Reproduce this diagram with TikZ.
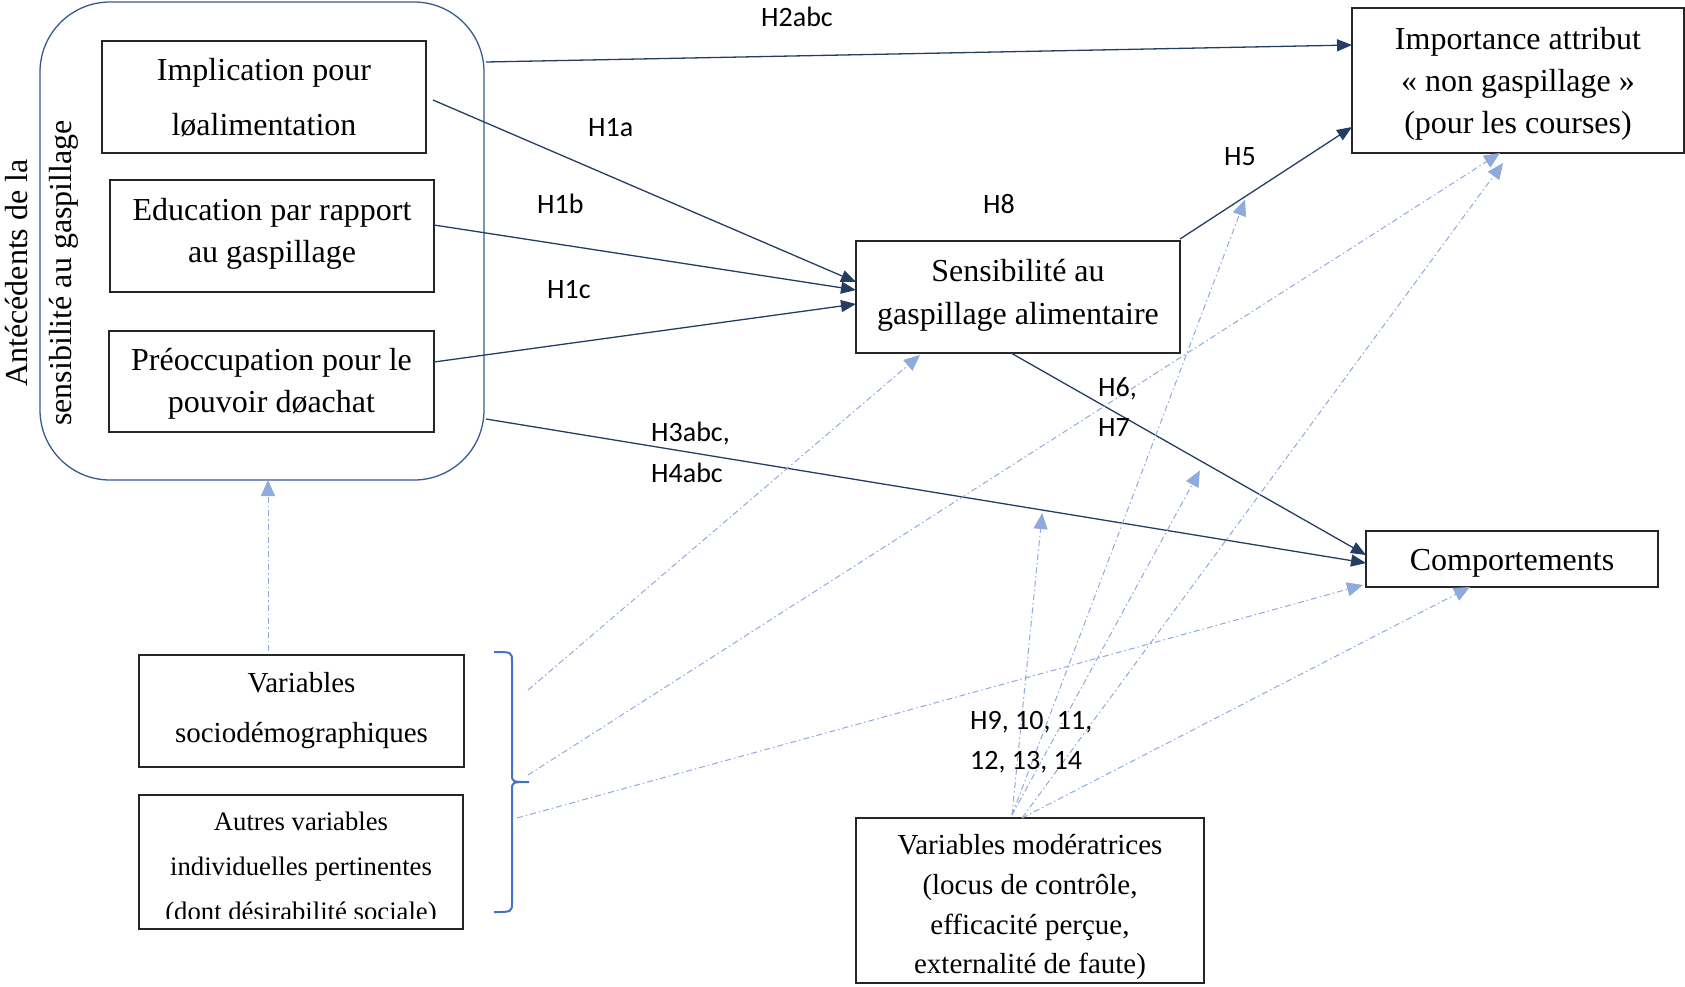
\documentclass[tikz,border=0pt]{standalone}
\usepackage{fontspec}
\setmainfont{Liberation Serif}
\newfontfamily\hypfont{Carlito}
\usetikzlibrary{arrows.meta,calc}

\definecolor{navy}{RGB}{36,62,98}
\definecolor{grpblue}{RGB}{55,90,145}
\definecolor{lightblue}{RGB}{143,170,220}
\definecolor{braceblue}{RGB}{68,114,196}

\begin{document}
\begin{tikzpicture}[x=1pt,y=-1pt,
  box/.style={draw=black!85,line width=1.2pt,rectangle,outer sep=0pt,inner sep=0pt,align=center},
  big/.style={font=\fontsize{32}{42}\selectfont},
  hyp/.style={font=\hypfont\fontsize{28}{34}\selectfont,inner sep=0pt,anchor=base west},
  mainarrow/.style={draw=navy,line width=1.3pt,-{Triangle[length=15pt,width=12pt]}},
  modarrow/.style={draw=lightblue,line width=1pt,dash pattern=on 6pt off 3pt on 1.5pt off 3pt,
    -{Triangle[length=16pt,width=14pt]}}
]
\useasboundingbox (0,0) rectangle (1685,986);

% group of antecedents
\node[draw=grpblue,line width=1.3pt,rounded corners=70pt,minimum width=444pt,minimum height=478pt,
  outer sep=0pt,inner sep=0pt] (grp) at (262,241) {};
\node[rotate=90,align=center,font=\fontsize{32}{44}\selectfont,inner sep=0pt] (grplab) at (42,273)
  {Antécédents de la\\sensibilité au gaspillage};

% boxes (struts balance the text vertically inside each box)
\node[box,big,minimum width=324pt,minimum height=112pt,font=\fontsize{32}{55}\selectfont] (impl) at (264,97)
  {\rule{0pt}{24pt}Implication pour\\løalimentation};
\node[box,big,minimum width=324pt,minimum height=112pt] (edu) at (272,236)
  {Education par rapport\\au gaspillage\rule[-11pt]{0pt}{0pt}};
\node[box,big,minimum width=325pt,minimum height=101pt] (preo) at (271.5,381.5)
  {\rule{0pt}{27pt}Préoccupation pour le\\pouvoir døachat};
\node[box,big,minimum width=324pt,minimum height=112pt,font=\fontsize{32}{43}\selectfont] (sens) at (1018,297)
  {Sensibilité au\\gaspillage alimentaire\rule[-11pt]{0pt}{0pt}};
\node[box,big,minimum width=332pt,minimum height=145pt,font=\fontsize{32}{42}\selectfont] (imp) at (1518,80.5)
  {\rule{0pt}{28pt}Importance attribut\\«~non gaspillage~»\\(pour les courses)};
\node[box,big,minimum width=292pt,minimum height=56pt] (comp) at (1512,559) {\rule{0pt}{30pt}Comportements};
\node[box,minimum width=325pt,minimum height=112pt,font=\fontsize{29}{50}\selectfont] (socio) at (301.5,711)
  {Variables\\sociodémographiques};
\node[box,minimum width=324pt,minimum height=134pt] (autres) at (301,862) {};
\begin{scope}
  \clip (140,796) rectangle (462,918);
  \node[inner sep=0pt,align=center,anchor=north,font=\fontsize{26.7}{45}\selectfont] (autrestxt) at (301,812)
    {Autres variables\\individuelles pertinentes\\(dont désirabilité sociale)};
\end{scope}
\node[box,minimum width=348pt,minimum height=165pt] (mod) at (1030,900.5) {};
\node[inner sep=0pt,align=center,anchor=north,font=\fontsize{29}{39.7}\selectfont] (modtxt) at (1030,834.5)
  {Variables modératrices\\(locus de contrôle,\\efficacité perçue,\\externalité de faute)};

% brace grouping the control variables
\draw[braceblue,line width=2pt] (494,652) .. controls (512,652) .. (512,662) -- (512,774)
  .. controls (512,782) .. (529,782) .. controls (512,782) .. (512,790) -- (512,902)
  .. controls (512,912) .. (494,912);
\coordinate (b1) at (528,690);
\coordinate (b2) at (528,775);
\coordinate (b3) at (517,818);
\coordinate (m1) at ($(mod.north)+(-18,-3)$);
\coordinate (m2) at ($(mod.north)+(-8,0)$);

% main hypotheses
\draw[mainarrow] ($(grp.north east)+(2,60)$) -- ($(imp.west)+(0,-35.5)$);
\draw[mainarrow] ($(impl.east)+(7,3)$) -- ($(sens.west)+(0,-15)$);
\draw[mainarrow] ($(edu.east)+(0,-11)$) -- ($(sens.west)+(0,-7)$);
\draw[mainarrow] ($(preo.east)+(0,-19.5)$) -- ($(sens.west)+(0,7)$);
\draw[mainarrow] ($(grp.south east)+(2,-61)$) -- coordinate[pos=0.632] (h3on) ($(comp.west)+(0,4)$);
\draw[mainarrow] ($(sens.north east)+(0,-2)$) -- coordinate[pos=0.378] (h5on) ($(imp.south west)+(0,-26)$);
\draw[mainarrow] ($(sens.south)+(-7,0)$) -- coordinate[pos=0.532] (h67on) ($(comp.west)+(0,-4)$);

% control and moderating effects
\draw[modarrow] ($(socio.north)+(-33.5,-4)$) -- ($(grp.south)+(6,0)$);
\draw[modarrow] (b1) -- ($(sens.south west)+(64,2)$);
\draw[modarrow] (b2) -- ($(imp.south west)+(148,0)$);
\draw[modarrow] (b3) -- ($(comp.south west)+(-3,-2)$);
\draw[modarrow] (m1) -- ($(h3on)+(0,3)$);
\draw[modarrow] (m1) -- ($(h5on)+(0,3)$);
\draw[modarrow] (m1) -- ($(h67on)+(0,10)$);
\draw[modarrow] (m2) -- ($(imp.south west)+(151,10)$);
\draw[modarrow] (m2) -- ($(comp.south west)+(104,0)$);

% hypothesis labels
\node[hyp] (l2) at (761,26) {H2abc};
\node[hyp] (l1a) at (588,136) {H1a};
\node[hyp] (l1b) at (537,213) {H1b};
\node[hyp] (l1c) at (547,298) {H1c};
\node[hyp] (l8) at (983,213) {H8};
\node[hyp] (l5) at (1224,165) {H5};
\node[hyp] (l3) at (651,441) {H3abc,};
\node[hyp] (l4) at (651,482) {H4abc};
\node[hyp] (l6) at (1098,396) {H6,};
\node[hyp] (l7) at (1098,436) {H7};
\node[hyp] (l9) at (970,729) {H9, 10, 11,};
\node[hyp] (l12) at (970,769) {12, 13, 14};
\end{tikzpicture}
\end{document}
